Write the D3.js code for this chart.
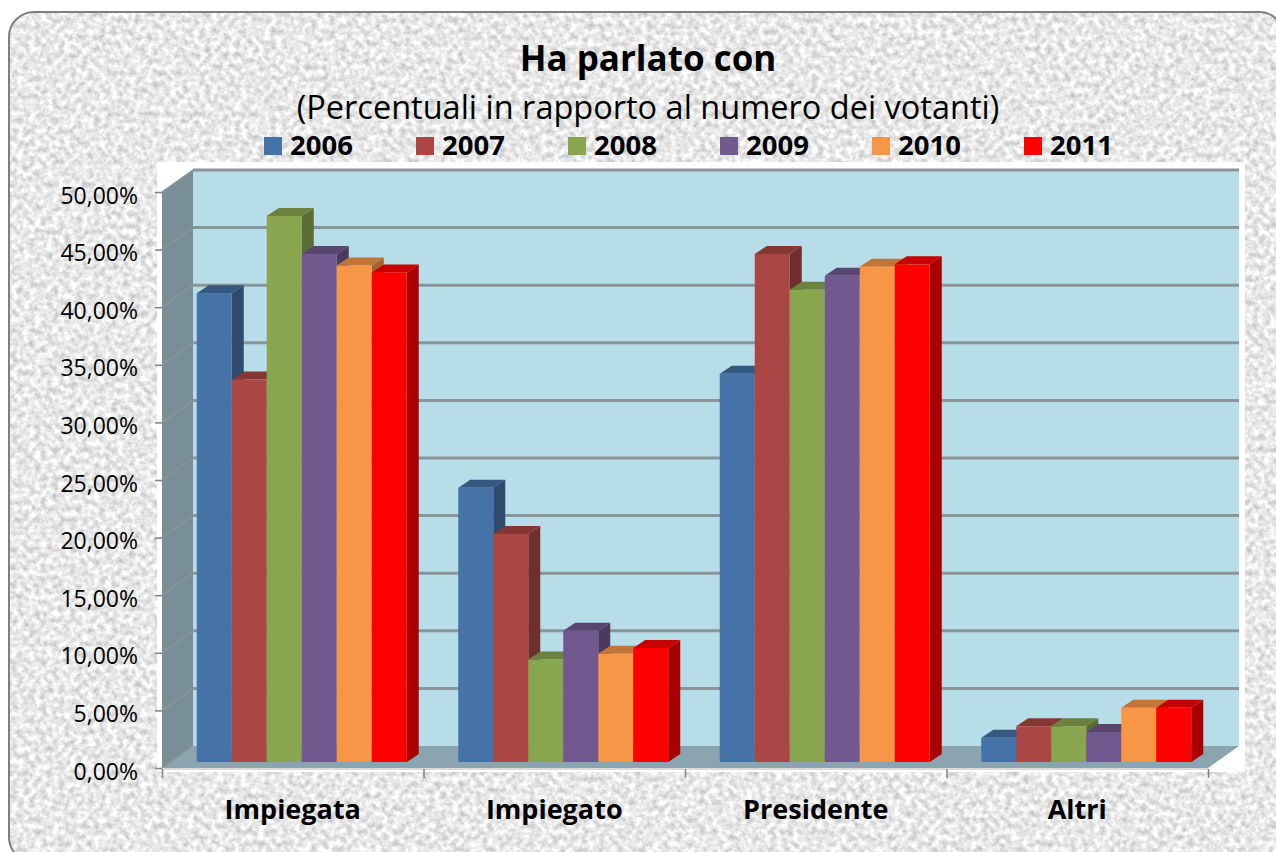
<!DOCTYPE html>
<html><head><meta charset="utf-8"><script src="https://cdnjs.cloudflare.com/ajax/libs/d3/7.8.5/d3.min.js"></script>
<style>html,body{margin:0;padding:0;background:#fff}svg{display:block}text{font-family:"Open Sans","Noto Sans",sans-serif;fill:#000}</style></head><body>
<svg id="c" width="1276" height="852"></svg>
<script>
const categories=["Impiegata","Impiegato","Presidente","Altri"];
const years=["2006","2007","2008","2009","2010","2011"];
const s2006=[40.7,23.8,33.7,2.1];
const s2007=[33.2,19.8,44.1,3.1];
const s2008=[47.4,8.9,41,3.1];
const s2009=[44.1,11.4,42.2,2.6];
const s2010=[43.1,9.4,43,4.7];
const s2011=[42.5,9.9,43.2,4.7];
const seriesValues=[s2006,s2007,s2008,s2009,s2010,s2011];
const colors=["#4572A7","#AA4643","#89A54E","#71588F","#F79646","#FF0000"];
const tickValues=d3.range(0,51,5);
const fmt=d=>d.toFixed(2).replace(".",",")+"%";
const svg=d3.select("#c");
const defs=svg.append("defs");
const f=defs.append("filter").attr("id","n").attr("x",0).attr("y",0).attr("width","100%").attr("height","100%").attr("color-interpolation-filters","sRGB");
f.append("feTurbulence").attr("type","fractalNoise").attr("baseFrequency",0.17).attr("numOctaves",4).attr("seed",7).attr("result","t");
f.append("feColorMatrix").attr("in","t").attr("values","0.42 0 0 0 0.7  0.42 0 0 0 0.7  0.42 0 0 0 0.7  0 0 0 0 1").attr("result","g");
f.append("feComposite").attr("in","g").attr("in2","SourceAlpha").attr("operator","in");
svg.append("rect").attr("width",1276).attr("height",852).attr("fill","#fff");
const frame=()=>svg.append("rect").attr("x",9).attr("y",12).attr("width",1275).attr("height",850).attr("rx",25);
frame().attr("fill","#000").attr("filter","url(#n)");
frame().attr("fill","none").attr("stroke","#7f7f7f").attr("stroke-width",2);
svg.append("rect").attr("x",157).attr("y",162).attr("width",1088).attr("height",610).attr("fill","#fff");
const dx=31,dy=-22;
const y0=768,y50=192,x0=162,x1=1208;
const y=d3.scaleLinear().domain([0,50]).range([y0,y50]);
const xCat=d3.scaleBand().domain(categories).range([x0,x1]);
const poly=(pts,fill)=>svg.append("polygon").attr("points",pts.map(p=>p.join(",")).join(" ")).attr("fill",fill);
poly([[x0+dx,y(50)+dy],[x1+dx,y(50)+dy],[x1+dx,y0+dy],[x0+dx,y0+dy]],"#B7DDE8");
poly([[x0,y(50)],[x0+dx,y(50)+dy],[x0+dx,y0+dy],[x0,y0]],"#788F98");
poly([[x0,y0],[x1,y0],[x1+dx,y0+dy],[x0+dx,y0+dy]],"#8AA5AF");
tickValues.forEach(t=>{
 if(t>0)svg.append("line").attr("x1",x0+dx).attr("x2",x1+dx).attr("y1",y(t)+dy).attr("y2",y(t)+dy).attr("stroke","#8a9598").attr("stroke-width",3);
 svg.append("line").attr("x1",x0).attr("x2",x0+dx).attr("y1",y(t)).attr("y2",y(t)+dy).attr("stroke","#8a9598").attr("stroke-width",1.5);
});
const barW=35,bdx=12,bdy=-8,front=762-y0;
const shade=(c,k)=>{const o=d3.rgb(c);return d3.rgb(o.r*k,o.g*k,o.b*k).formatHex();};
categories.forEach((cat,ci)=>{
 const start=xCat(cat)+xCat.bandwidth()/2-3*barW+9;
 years.forEach((yr,si)=>{
  const v=seriesValues[si][ci],bx=start+si*barW,t=y(v)+front,b=y0+front;
  poly([[bx+barW,t],[bx+barW+bdx,t+bdy],[bx+barW+bdx,b+bdy],[bx+barW,b]],shade(colors[si],.66));
  poly([[bx,t],[bx+barW,t],[bx+barW+bdx,t+bdy],[bx+bdx,t+bdy]],shade(colors[si],.78));
  svg.append("rect").attr("x",bx).attr("y",t).attr("width",barW).attr("height",b-t).attr("fill",colors[si]);
 });
});
svg.append("line").attr("x1",x0).attr("x2",x1).attr("y1",y0+1).attr("y2",y0+1).attr("stroke","#d9d9d9").attr("stroke-width",2);
const ay=d3.axisLeft(y).tickValues(tickValues).tickFormat(fmt).tickSize(7).tickSizeOuter(0);
const gy=svg.append("g").attr("transform",`translate(${x0},0)`).call(ay);
gy.selectAll("text").attr("font-size",23).attr("x",-24).attr("dy","0.48em");
gy.selectAll("line").attr("stroke","#808080").attr("stroke-width",1.5);
gy.selectAll("path").attr("stroke","none");
const ax=d3.axisBottom(xCat).tickSize(0);
const gx=svg.append("g").attr("transform",`translate(0,${y0})`).call(ax);
gx.selectAll("text").attr("font-size",27).attr("font-weight",700).attr("dy",0).attr("y",51);
gx.selectAll("path").attr("stroke","none");
[...categories.map(c=>xCat(c)),x1].forEach(v=>svg.append("line").attr("x1",v+.5).attr("x2",v+.5).attr("y1",y0+1).attr("y2",y0+10).attr("stroke","#808080").attr("stroke-width",1.5));
svg.append("text").attr("x",648).attr("y",71).attr("text-anchor","middle").attr("font-size",35).attr("font-weight",700).text("Ha parlato con");
svg.append("text").attr("x",648).attr("y",119).attr("text-anchor","middle").attr("font-size",32.5).text("(Percentuali in rapporto al numero dei votanti)");
const lx=d3.scalePoint().domain(years).range([264,1024]);
years.forEach((yr,i)=>{
 svg.append("rect").attr("x",lx(yr)).attr("y",137).attr("width",18).attr("height",18).attr("fill",colors[i]);
 svg.append("text").attr("x",lx(yr)+26).attr("y",155).attr("font-size",27.5).attr("font-weight",700).text(yr);
});
</script></body></html>
